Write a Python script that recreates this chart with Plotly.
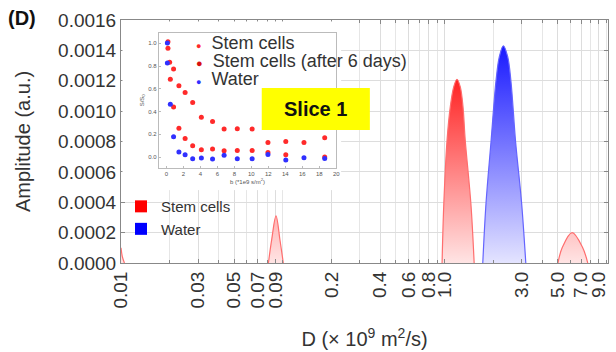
import plotly.graph_objects as go

# ---------------- main spectrum data (D in 1e-9 m^2/s, amplitude a.u.) ----------------
stem_peak0_x = [0.0100, 0.0102, 0.0105]
stem_peak0_y = [0.00010, 0.00004, 0.0]
stem_peak1_x = [0.0815, 0.0853, 0.0908, 0.0961, 0.1007]
stem_peak1_y = [0.0, 0.00015, 0.00031, 0.00015, 0.0]
stem_peak2_x = [0.965, 0.989, 1.036, 1.085, 1.139, 1.193, 1.250, 1.299, 1.341, 1.454, 1.523]
stem_peak2_y = [0.0, 0.00039, 0.00081, 0.00103, 0.00116, 0.00121, 0.00116, 0.00103, 0.00081, 0.00039, 0.0]
stem_peak3_x = [5.02, 5.33, 6.14, 7.14, 7.67]
stem_peak3_y = [0.0, 0.00010, 0.00020, 0.00010, 0.0]
water_peak_x = [1.722, 1.805, 1.937, 2.079, 2.182, 2.308, 2.453, 2.569, 2.746, 2.989, 3.176]
water_peak_y = [0.0, 0.00040, 0.00080, 0.00120, 0.00136, 0.00143, 0.00136, 0.00120, 0.00080, 0.00040, 0.0]

x_tickvals = [0.01, 0.03, 0.05, 0.07, 0.09, 0.2, 0.4, 0.6, 0.8, 1.0, 3.0, 5.0, 7.0, 9.0]
x_ticktext = ["0.01", "0.03", "0.05", "0.07", "0.09", "0.2", "0.4", "0.6", "0.8", "1.0", "3.0", "5.0", "7.0", "9.0"]
y_tickvals = [0.0, 0.0002, 0.0004, 0.0006, 0.0008, 0.0010, 0.0012, 0.0014, 0.0016]

# ---------------- inset data (S/S0 vs b) ----------------
inset_after_b = [0.19, 0.39, 0.85, 1.48, 2.21, 3.1, 4.12, 5.44, 6.8, 8.35, 10.1, 11.96, 14.06, 16.2, 18.64]
inset_after_s = [1.015, 0.833, 0.775, 0.626, 0.567, 0.48, 0.35, 0.313, 0.246, 0.249, 0.246, 0.129, 0.137, 0.129, 0.17]
inset_stem_b = [0.19, 0.47, 0.85, 1.48, 2.21, 3.1, 4.12, 5.44, 6.8, 8.35, 10.1, 11.96, 14.06, 18.64]
inset_stem_s = [0.956, 0.684, 0.44, 0.254, 0.164, 0.099, 0.064, 0.07, 0.056, 0.058, 0.058, 0.041, 0.02, 0.0]
inset_water_b = [0.12, 0.12, 0.47, 0.85, 1.48, 2.21, 3.1, 4.12, 5.44, 6.8, 8.35, 10.1, 11.96, 14.06, 16.2, 18.64]
inset_water_s = [1.003, 0.827, 0.465, 0.178, 0.044, 0.02, -0.015, -0.009, -0.018, 0.015, -0.015, -0.015, 0.023, -0.026, -0.006, -0.012]
inset_legend_labels = ["Stem cells", "Stem cells (after 6 days)", "Water"]
inset_legend_colors = ["#ff2a2a", "#d81010", "#3030ff"]

RED_MAX = 0.00121
BLUE_MAX = 0.00143
red_grad = dict(type="vertical", start=0, stop=RED_MAX,
                colorscale=[[0, "rgb(255,228,228)"], [1, "rgb(255,35,35)"]])
blue_grad = dict(type="vertical", start=0, stop=BLUE_MAX,
                 colorscale=[[0, "rgb(228,228,255)"], [1, "rgb(25,25,255)"]])

fig = go.Figure()

for px, py in [(stem_peak0_x, stem_peak0_y), (stem_peak1_x, stem_peak1_y),
               (stem_peak2_x, stem_peak2_y), (stem_peak3_x, stem_peak3_y)]:
    fig.add_trace(go.Scatter(x=px, y=py, mode="lines", fill="tozeroy",
                             line=dict(color="rgb(255,110,110)", width=1.2, shape="spline", smoothing=1.0),
                             fillgradient=red_grad, showlegend=False, hoverinfo="skip"))
fig.add_trace(go.Scatter(x=water_peak_x, y=water_peak_y, mode="lines", fill="tozeroy",
                         line=dict(color="rgb(100,100,255)", width=1.2, shape="spline", smoothing=1.0),
                         fillgradient=blue_grad, showlegend=False, hoverinfo="skip"))

# legend entries for main plot
fig.add_trace(go.Scatter(x=[None], y=[None], mode="markers", name="Stem cells",
                         marker=dict(symbol="square", size=12, color="#ff0000")))
fig.add_trace(go.Scatter(x=[None], y=[None], mode="markers", name="Water",
                         marker=dict(symbol="square", size=12, color="#0000ff")))

# white backdrop subplot for the inset (hidden axes)
fig.add_trace(go.Scatter(x=[None], y=[None], xaxis="x2", yaxis="y2", showlegend=False, hoverinfo="skip"))

# inset traces
fig.add_trace(go.Scatter(x=inset_stem_b, y=inset_stem_s, mode="markers", name=inset_legend_labels[0],
                         marker=dict(size=5, color=inset_legend_colors[0]), xaxis="x3", yaxis="y3", showlegend=False))
fig.add_trace(go.Scatter(x=inset_after_b, y=inset_after_s, mode="markers", name=inset_legend_labels[1],
                         marker=dict(size=5, color=inset_legend_colors[0]), xaxis="x3", yaxis="y3", showlegend=False))
fig.add_trace(go.Scatter(x=inset_water_b, y=inset_water_s, mode="markers", name=inset_legend_labels[2],
                         marker=dict(size=5, color=inset_legend_colors[2]), xaxis="x3", yaxis="y3", showlegend=False))

axis_font = dict(family="Liberation Sans, Arial, sans-serif", size=19, color="#333333")
small_font = dict(size=6, color="#555555")

annotations = [
    dict(text="<b>Slice 1</b>", xref="paper", yref="paper", x=0.40, y=0.634, showarrow=False,
         font=dict(size=20, color="#111111")),
    dict(text="<b>(D)</b>", xref="paper", yref="paper", x=-0.236, y=1.01, xanchor="left", yanchor="middle",
         showarrow=False, font=dict(size=20, color="#111111")),
]
legend_rows_y = [0.905, 0.831, 0.757]
for lab, col, yy, dsz in zip(inset_legend_labels, inset_legend_colors, legend_rows_y, [9, 11, 9]):
    annotations.append(dict(
        text=f"<span style='color:{col};font-size:{dsz}px'>●</span>  {lab}",
        xref="paper", yref="paper", x=0.150, y=yy, xanchor="left", yanchor="middle",
        showarrow=False, font=dict(size=18, color="#333333")))

fig.update_layout(
    width=616, height=352,
    margin=dict(l=121, r=4, t=20, b=89),
    paper_bgcolor="white", plot_bgcolor="white",
    font=dict(family="Liberation Sans, Arial, sans-serif", color="#333333"),
    showlegend=True,
    xaxis=dict(type="log", range=[-2, 1.01], tickvals=x_tickvals, ticktext=x_ticktext,
               tickangle=-90, tickfont=axis_font,
               showgrid=True, gridcolor="#dddddd", gridwidth=1,
               minor=dict(dtick="D1", showgrid=True, gridcolor="#e6e6e6", ticks="inside", ticklen=3, tickcolor="#888"),
               showline=True, linecolor="#888888", linewidth=1, mirror="ticks",
               ticks="inside", ticklen=4, tickcolor="#888888",
               title=dict(text="D (× 10<sup>9</sup> m<sup>2</sup>/s)", font=dict(size=20, color="#333333"), standoff=24),
               zeroline=False),
    yaxis=dict(range=[0, 0.0016], tickvals=y_tickvals, tickformat=".4f", tickfont=axis_font,
               showgrid=True, gridcolor="#dddddd", gridwidth=1,
               showline=True, linecolor="#888888", linewidth=1, mirror="ticks",
               ticks="inside", ticklen=4, tickcolor="#888888",
               title=dict(text="Amplitude (a.u.)", font=dict(size=20, color="#333333"), standoff=22),
               zeroline=False),
    xaxis2=dict(domain=[0.003, 0.452], anchor="y2", visible=False, showgrid=False, zeroline=False),
    yaxis2=dict(domain=[0.30, 0.994], anchor="x2", visible=False, showgrid=False, zeroline=False),
    xaxis3=dict(domain=[0.0774, 0.442], anchor="y3", range=[-0.9, 20], dtick=2,
                tickfont=small_font, showgrid=False, zeroline=False,
                showline=True, linecolor="#bbbbbb", mirror=True, ticks="inside", ticklen=2, tickcolor="#bbbbbb",
                title=dict(text="b (*1e9 s/m<sup>2</sup>)", font=small_font, standoff=3)),
    yaxis3=dict(domain=[0.391, 0.948], anchor="x3", range=[-0.096, 1.094], dtick=0.2, tickformat=".1f",
                tickfont=small_font, showgrid=False, zeroline=False,
                showline=True, linecolor="#bbbbbb", mirror=True, ticks="inside", ticklen=2, tickcolor="#bbbbbb",
                title=dict(text="S/S<sub>0</sub>", font=small_font, standoff=3)),
    legend=dict(x=0.0, y=0.30, xanchor="left", yanchor="top", bgcolor="rgba(0,0,0,0)",
                font=dict(size=15, color="#333333"), itemwidth=30),
    shapes=[
        dict(type="rect", xref="paper", yref="paper", x0=0.289, x1=0.511, y0=0.547, y1=0.720,
             fillcolor="#ffff00", line=dict(width=0), layer="above"),
    ],
    annotations=annotations,
)

fig.write_html("out.html")
